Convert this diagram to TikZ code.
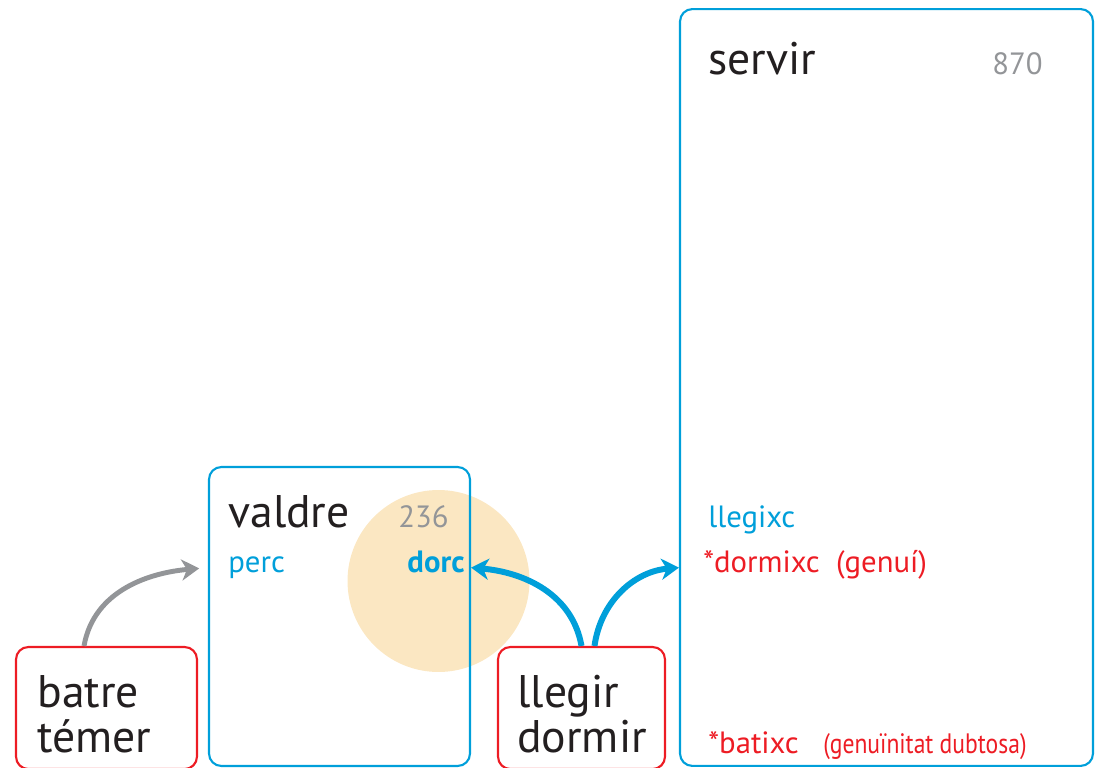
\documentclass[tikz,border=0pt]{standalone}
\usepackage{fontspec}
\setmainfont{PT Sans}
\newfontfamily\narrowfont[FakeStretch=0.84]{PT Sans}
\usetikzlibrary{arrows.meta}
\definecolor{catblue}{HTML}{009FDA}
\definecolor{catred}{HTML}{ED1C24}
\definecolor{catgrey}{HTML}{939598}
\definecolor{peach}{HTML}{FBE7C2}
\definecolor{inkblack}{HTML}{231F20}

\begin{document}
\begin{tikzpicture}[x=0.02cm,y=-0.02cm,>={Stealth[length=10pt,width=12pt,inset=3pt]},
    blue box/.style={draw=catblue,line width=1.2pt,rounded corners=7pt,inner sep=0pt},
    red box/.style={draw=catred,line width=1.2pt,rounded corners=7pt,inner sep=0pt},
    word/.style={anchor=base west,inner sep=0pt},
    big word/.style={word,text=inkblack,align=left,font={\fontsize{26}{25.5}\selectfont}},
    small word/.style={word,font={\fontsize{17.5}{21}\selectfont}},
    bold word/.style={word,font={\fontsize{17.5}{21}\selectfont\bfseries}},
    count/.style={small word,text=catgrey,anchor=base east},
    blue arrow/.style={->,draw=catblue,line width=3.4pt},
    grey arrow/.style={->,draw=catgrey,line width=2.8pt}]

  \clip (0,0) rectangle (1103,768);

  % highlight behind dorc
  \node[circle,fill=peach,minimum size=3.64cm,inner sep=0pt] (glow) at (438.5,581) {};

  % boxes
  \node[blue box,minimum width=5.22cm,minimum height=5.98cm] (valdre box) at (339.5,616.5) {};
  \node[blue box,minimum width=8.26cm,minimum height=15.14cm] (servir box) at (886.5,387.5) {};
  \node[red box,minimum width=3.62cm,minimum height=2.44cm] (batre box) at (106.5,708) {};
  \node[red box,minimum width=3.34cm,minimum height=2.44cm] (llegir box) at (581.5,708) {};

  % texts
  \node[big word] (valdre) at (228,527) {valdre};
  \node[count] (n236) at (449,527) {236};
  \node[small word,text=catblue] (perc) at (228,572) {perc};
  \node[bold word,text=catblue,anchor=base east] (dorc) at (465,572) {dorc};

  \node[big word] (servir) at (708,74) {servir};
  \node[count] (n870) at (1043,74) {870};
  \node[small word,text=catblue] (llegixc) at (708,527) {llegixc};
  \node[small word,text=catred] (dormixc) at (703,572) {*dormixc\ \ (genuí)};
  \node[small word,text=catred] (batixc) at (708,753) {*batixc};
  \node[word,text=catred,font={\narrowfont\fontsize{16}{19}\selectfont}] (dubious) at (823,753) {(genuïnitat dubtosa)};

  % base of a two-line node is its last line
  \node[big word] (batre) at (37,752) {batre\\témer};
  \node[big word] (llegir) at (517,752) {llegir\\dormir};

  % arrows
  \coordinate (perc in) at (valdre box.west |- perc.mid);
  \coordinate (dorc in) at (valdre box.east |- dorc.mid);
  \coordinate (dormixc in) at (servir box.west |- dormixc.mid);
  \draw[grey arrow,shorten >=5pt] ([xshift=-0.45cm]batre box.north) to[out=80,in=185] (perc in);
  \draw[blue arrow] (llegir box.north) to[out=100,in=-5] (dorc in);
  \draw[blue arrow] ([xshift=0.26cm]llegir box.north) to[out=82,in=185] (dormixc in);
\end{tikzpicture}
\end{document}
